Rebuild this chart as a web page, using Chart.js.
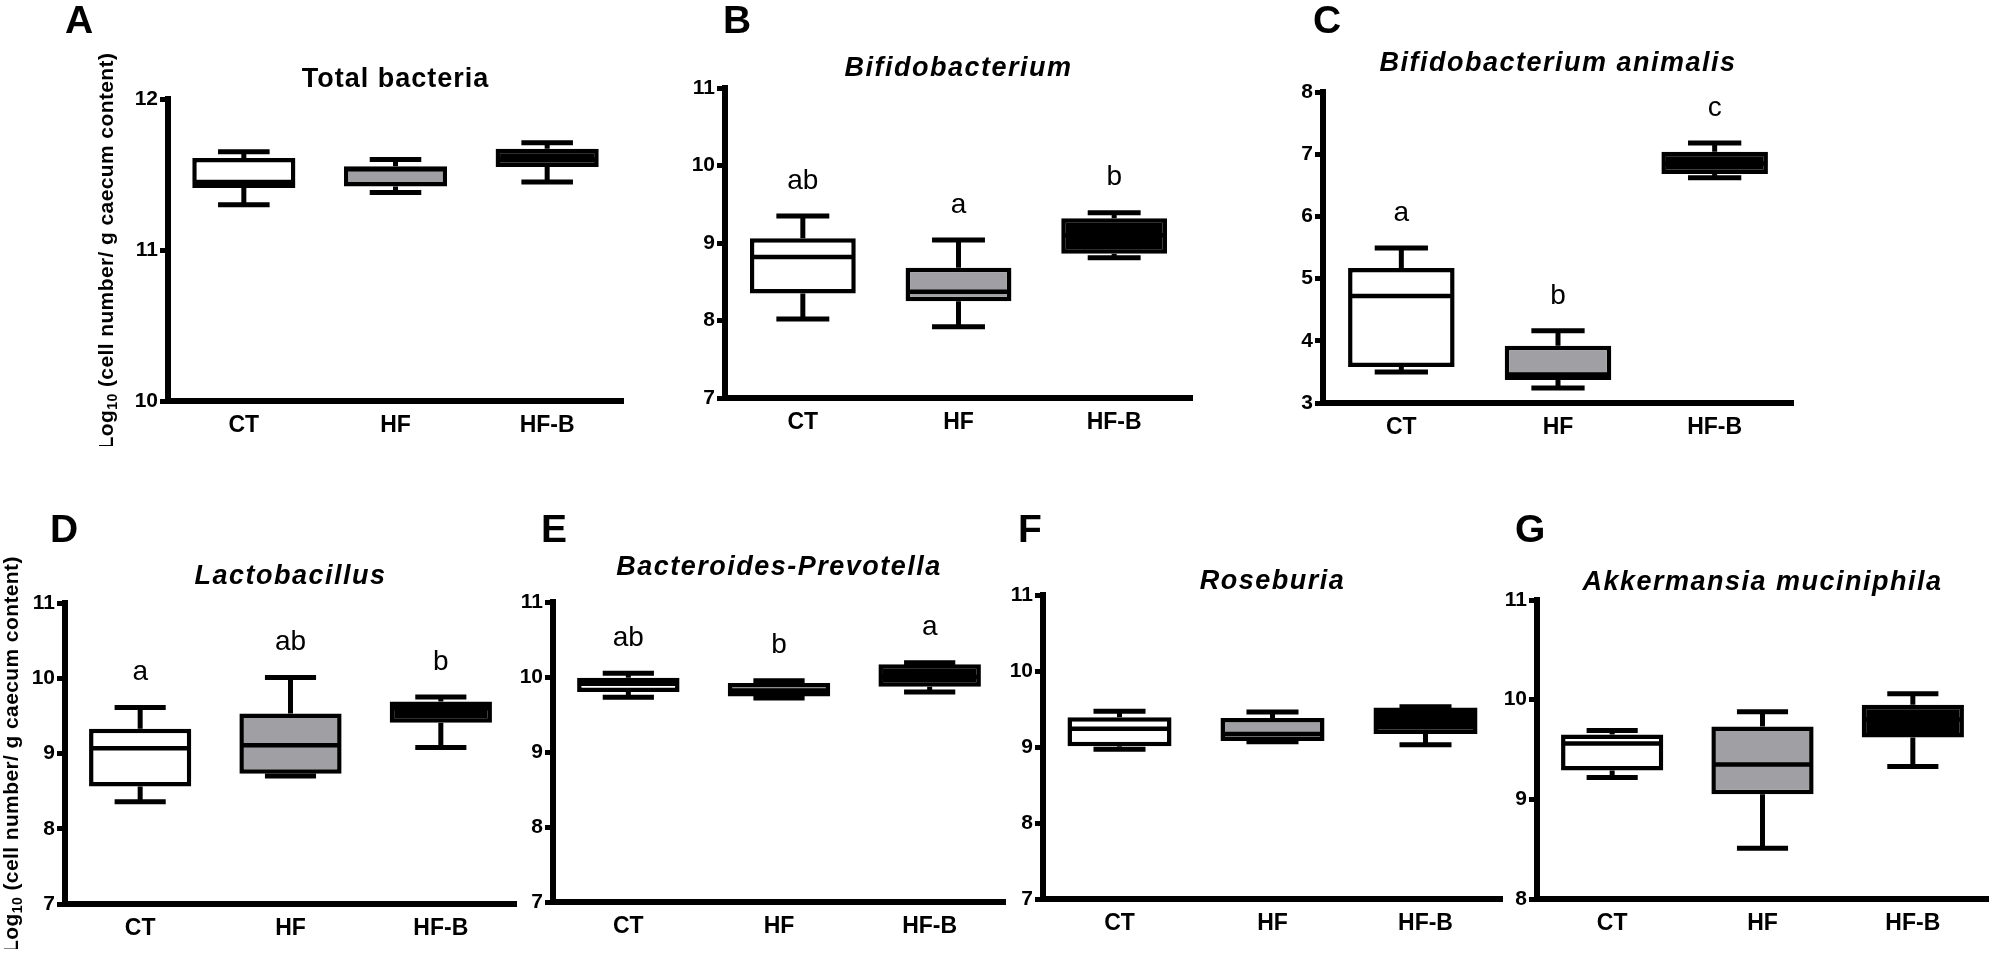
<!DOCTYPE html>
<html>
<head>
<meta charset="utf-8">
<script src="https://cdn.jsdelivr.net/npm/chart.js@4.4.1/dist/chart.umd.min.js"></script>
<style>
  html, body { margin: 0; padding: 0; background: #fff; }
  #fig { position: relative; width: 1998px; height: 953px; overflow: hidden; }
  #fig canvas { position: absolute; }
  .tag { position: absolute; font: bold 39px 'Liberation Sans', Arial, sans-serif; line-height: 39px; color: #000; }
</style>
</head>
<body>
<div id="fig"></div>
<script>
const FONT = "'Liberation Sans', Arial, sans-serif";

const groups = ['CT', 'HF', 'HF-B'];
const boxColors = ['#ffffff', '#a0a0a4', '#000000'];

// five-number summaries per group: [min, q1, median, q3, max]
const totalBacteria = [[11.30, 11.41, 11.45, 11.61, 11.65], [11.38, 11.42, 11.535, 11.555, 11.60], [11.45, 11.55, 11.60, 11.67, 11.71]];
const bifidobacterium = [[8.02, 8.35, 8.82, 9.06, 9.35], [7.92, 8.25, 8.37, 8.68, 9.04], [8.81, 8.86, 9.10, 9.32, 9.39]];
const bAnimalis = [[3.50, 3.58, 4.72, 5.17, 5.49], [3.24, 3.37, 3.46, 3.92, 4.16], [6.62, 6.68, 6.85, 7.04, 7.18]];
const lactobacillus = [[8.36, 8.56, 9.07, 9.33, 9.61], [8.70, 8.73, 9.11, 9.53, 10.01], [9.08, 9.41, 9.60, 9.69, 9.75]];
const bactPrevotella = [[9.73, 9.80, 9.91, 9.99, 10.05], [9.72, 9.74, 9.82, 9.92, 9.95], [9.80, 9.87, 10.00, 10.17, 10.19]];
const roseburia = [[8.97, 9.01, 9.24, 9.39, 9.47], [9.07, 9.08, 9.17, 9.38, 9.46], [9.03, 9.17, 9.35, 9.52, 9.53]];
const akkermansia = [[9.22, 9.29, 9.56, 9.65, 9.69], [8.51, 9.05, 9.35, 9.73, 9.88], [9.33, 9.62, 9.80, 9.95, 10.06]];

// significance letters
const lettersB = ['ab', 'a', 'b'];
const lettersC = ['a', 'b', 'c'];
const lettersD = ['a', 'ab', 'b'];
const lettersE = ['ab', 'b', 'a'];

// y axis ranges [min, max]
const rangeA = [10, 12];
const rangeB = [7, 11];
const rangeC = [3, 8];
const rangeD = [7, 11];
const rangeE = [7, 11];
const rangeF = [7, 11];
const rangeG = [8, 11];

// layout: rect = [axis left, axis right, top tick y, bottom tick y]
const panels = [
  { tag: 'A', tagXY: [65, 33], title: 'Total bacteria', italic: false, stats: totalBacteria, letters: null, range: rangeA, rect: [168, 623, 99, 401], axisW: 78, titleY: 80, yTitleX: 107 },
  { tag: 'B', tagXY: [723, 33], title: 'Bifidobacterium', italic: true, stats: bifidobacterium, letters: lettersB, range: rangeB, rect: [725, 1192, 88, 398], axisW: 45, titleY: 69 },
  { tag: 'C', tagXY: [1313, 33], title: 'Bifidobacterium animalis', italic: true, stats: bAnimalis, letters: lettersC, range: rangeC, rect: [1323, 1793, 92, 403], axisW: 45, titleY: 64 },
  { tag: 'D', tagXY: [50, 542], title: 'Lactobacillus', italic: true, stats: lactobacillus, letters: lettersD, range: rangeD, rect: [65, 516, 603, 904], axisW: 65, titleY: 577, yTitleX: 12 },
  { tag: 'E', tagXY: [541, 542], title: 'Bacteroides-Prevotella', italic: true, stats: bactPrevotella, letters: lettersE, range: rangeE, rect: [553, 1005, 602, 902], axisW: 45, titleY: 568 },
  { tag: 'F', tagXY: [1018, 542], title: 'Roseburia', italic: true, stats: roseburia, letters: null, range: rangeF, rect: [1043, 1502, 595, 899], axisW: 45, titleY: 582 },
  { tag: 'G', tagXY: [1515, 542], title: 'Akkermansia muciniphila', italic: true, stats: akkermansia, letters: null, range: rangeG, rect: [1537, 1988, 600, 899], axisW: 45, titleY: 583 }
];

const fig = document.getElementById('fig');

// rotated "Log10 (...)" axis title with a real subscript
function drawYTitle(ctx, cx, cy) {
  const main = 'bold 21px ' + FONT, sub = 'bold 14px ' + FONT;
  const rest = ' (cell number/ g caecum content)';
  ctx.save();
  ctx.translate(cx, cy);
  ctx.rotate(-Math.PI / 2);
  ctx.letterSpacing = '0.4px';
  ctx.fillStyle = '#000';
  ctx.textBaseline = 'middle';
  ctx.textAlign = 'left';
  ctx.font = main;
  const wLog = ctx.measureText('Log').width;
  const wRest = ctx.measureText(rest).width;
  ctx.font = sub;
  const wSub = ctx.measureText('10').width;
  let x = -(wLog + wSub + wRest) / 2;
  ctx.font = main;
  ctx.fillText('Log', x, 0);
  x += wLog;
  ctx.font = sub;
  ctx.fillText('10', x, 6);
  x += wSub;
  ctx.font = main;
  ctx.fillText(rest, x, 0);
  ctx.restore();
}

// whiskers, medians, letters and panel title
function boxPlugin(p, canvasLeft, canvasTop) {
  return {
    id: 'box' + p.tag,
    beforeDatasetsDraw(chart) {
      const { ctx, scales: { x, y } } = chart;
      const meta = chart.getDatasetMeta(0);
      ctx.save();
      ctx.strokeStyle = '#000';
      ctx.lineWidth = 5;
      p.stats.forEach((s, i) => {
        const cx = x.getPixelForValue(i);
        const half = meta.data[i].width / 4;
        const yMin = y.getPixelForValue(s[0]);
        const yQ1 = y.getPixelForValue(s[1]);
        const yQ3 = y.getPixelForValue(s[3]);
        const yMax = y.getPixelForValue(s[4]);
        ctx.beginPath();
        ctx.moveTo(cx, yMax); ctx.lineTo(cx, yQ3);
        ctx.moveTo(cx, yQ1); ctx.lineTo(cx, yMin);
        ctx.moveTo(cx - half, yMax); ctx.lineTo(cx + half, yMax);
        ctx.moveTo(cx - half, yMin); ctx.lineTo(cx + half, yMin);
        ctx.stroke();
      });
      ctx.restore();
    },
    afterDatasetsDraw(chart) {
      const { ctx, scales: { x, y }, chartArea } = chart;
      const meta = chart.getDatasetMeta(0);
      ctx.save();
      ctx.strokeStyle = '#000';
      ctx.lineWidth = 4.5;
      p.stats.forEach((s, i) => {
        const bar = meta.data[i];
        const ym = y.getPixelForValue(s[2]);
        ctx.beginPath();
        ctx.moveTo(bar.x - bar.width / 2 + 3, ym);
        ctx.lineTo(bar.x + bar.width / 2 - 3, ym);
        ctx.stroke();
      });
      ctx.fillStyle = '#000';
      ctx.textAlign = 'center';
      ctx.textBaseline = 'middle';
      if (p.letters) {
        ctx.font = '28px ' + FONT;
        p.letters.forEach((t, i) => {
          ctx.fillText(t, x.getPixelForValue(i), y.getPixelForValue(p.stats[i][4]) - 35);
        });
      }
      ctx.font = (p.italic ? 'italic ' : '') + 'bold 27px ' + FONT;
      ctx.letterSpacing = p.italic ? '1.5px' : '1px';
      ctx.fillText(p.title, (chartArea.left + chartArea.right) / 2, p.titleY - canvasTop);
      ctx.restore();
      if (p.yTitleX) drawYTitle(ctx, p.yTitleX - canvasLeft, (chartArea.top + chartArea.bottom) / 2 + 1);
    }
  };
}

panels.forEach(p => {
  const [L, R, T, B] = p.rect;
  const padTop = 75, padRight = 12, xAxisH = 45;
  const left = L - p.axisW, top = T - padTop;
  const w = R - left + padRight, h = B - top + xAxisH;

  const canvas = document.createElement('canvas');
  canvas.width = w;
  canvas.height = h;
  canvas.style.left = left + 'px';
  canvas.style.top = top + 'px';
  canvas.style.width = w + 'px';
  canvas.style.height = h + 'px';
  fig.appendChild(canvas);

  const tag = document.createElement('div');
  tag.className = 'tag';
  tag.textContent = p.tag;
  tag.style.left = p.tagXY[0] + 'px';
  tag.style.top = (p.tagXY[1] - 33) + 'px';
  fig.appendChild(tag);

  new Chart(canvas, {
    type: 'bar',
    data: {
      labels: groups,
      datasets: [{
        data: p.stats.map(s => [s[1], s[3]]),
        backgroundColor: boxColors,
        borderColor: '#000',
        borderWidth: 4.5,
        borderSkipped: false,
        barPercentage: 0.68,
        categoryPercentage: 1
      }]
    },
    options: {
      responsive: false,
      animation: false,
      devicePixelRatio: 1,
      layout: { padding: { top: padTop, right: padRight, left: 0, bottom: 0 } },
      plugins: { legend: { display: false }, tooltip: { enabled: false } },
      scales: {
        x: {
          grid: { display: false, drawTicks: false },
          border: { color: '#000', width: 6 },
          ticks: { color: '#000', padding: 11, maxRotation: 0, font: { family: FONT, size: 23, weight: 'bold' } },
          afterFit: s => { s.height = xAxisH; }
        },
        y: {
          min: p.range[0],
          max: p.range[1],
          ticks: { stepSize: 1, color: '#000', padding: 2, font: { family: FONT, size: 21, weight: 'bold' } },
          grid: { drawOnChartArea: false, tickLength: 8, lineWidth: 5, color: '#000' },
          border: { color: '#000', width: 6 },
          afterFit: s => { s.width = p.axisW; }
        }
      }
    },
    plugins: [boxPlugin(p, left, top)]
  });
});
</script>
</body>
</html>
